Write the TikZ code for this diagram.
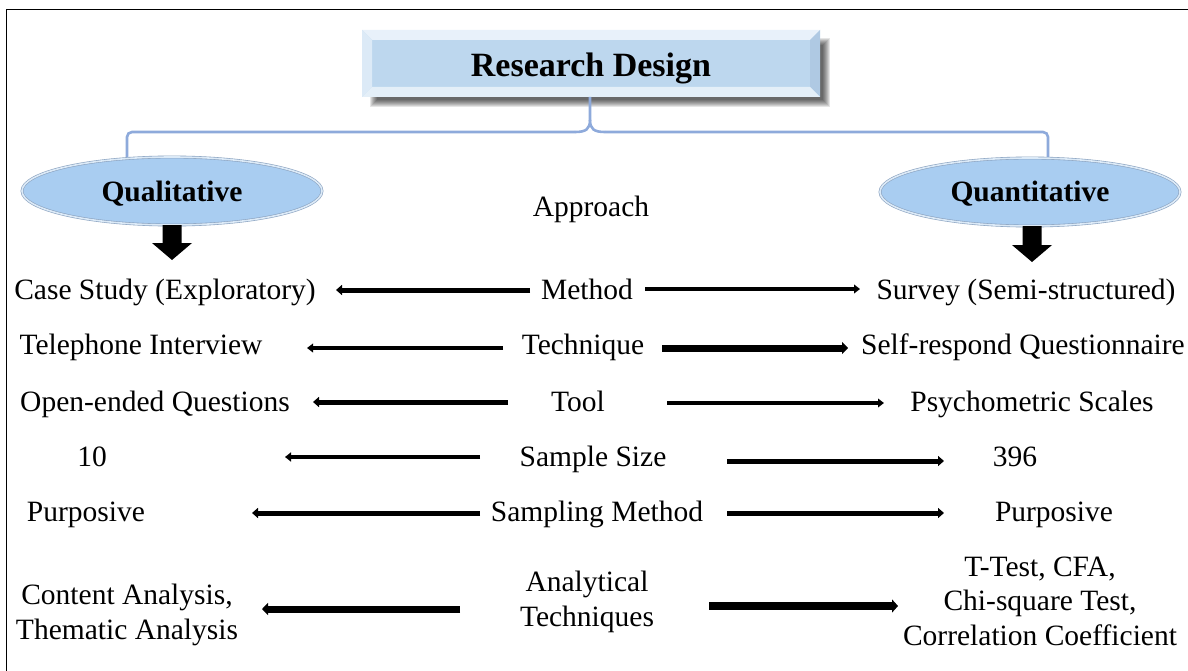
\documentclass[tikz,border=0pt]{standalone}
\usepackage{fontspec}
\setmainfont{Liberation Serif}
\usetikzlibrary{arrows.meta,shapes.geometric}
\definecolor{boxblue}{HTML}{BDD7EE}
\definecolor{bevlight}{HTML}{DCEAF7}
\definecolor{bevtop}{HTML}{E8F1FA}
\definecolor{bevdark}{HTML}{AFC9E3}
\definecolor{ovalblue}{HTML}{A9CDF1}
\definecolor{ovaledge}{HTML}{8AA2C0}
\definecolor{bracket}{HTML}{8EAADB}
\begin{document}
\begin{tikzpicture}[x=1pt,y=-1pt,
  lbl/.style={font=\fontsize{29.5}{34.5}\selectfont, inner sep=0pt, align=center},
  oval/.style={ellipse, minimum width=300pt, minimum height=68pt, inner sep=0pt,
    fill=ovalblue, draw=ovaledge, double=bevlight, double distance=1.6pt, line width=0.6pt,
    text height=20pt, text depth=0pt,
    font=\fontsize{29.5}{34.5}\selectfont\bfseries},
  link/.style={line width=#1, -{Triangle[length=6pt,width=#1+5pt]}},
  down/.style={fill=black},
  brace/.style={draw=bracket, line width=2.6pt, rounded corners=5pt}
]
\useasboundingbox (0,0) rectangle (1188,671);
\fill[white] (0,0) rectangle (1188,671);
% frame edges
\draw[line width=1.6pt] (6.5,671) -- (6.5,9.5) -- (1188,9.5);

% soft shadow under the title box
\foreach \s in {0,1,...,7}{
  \fill[black, opacity=0.1] (370+\s,38+\s) rectangle (830-\s,107-\s);
}
% bevelled title box
\fill[boxblue] (362,30) rectangle (820,97);
\fill[bevtop] (362,30) -- (820,30) -- (810,40) -- (372,40) -- cycle;
\fill[bevlight] (362,30) -- (372,40) -- (372,87) -- (362,97) -- cycle;
\fill[bevdark] (820,30) -- (810,40) -- (810,87) -- (820,97) -- cycle;
\fill[white!60!boxblue] (362,97) -- (372,87) -- (810,87) -- (820,97) -- cycle;
\node[inner sep=0pt, text height=23pt, text depth=0pt, font=\fontsize{34}{40}\selectfont\bfseries] (rd) at (591,65) {Research Design};

% bracket from the title down to the two approaches
\draw[brace] (127,158) |- (575,132);
\draw[bracket, line width=2.6pt] (575,132) .. controls (586,132) and (590,129) .. (590,120) -- (590,97);
\draw[brace] (1048,158) |- (605,132);
\draw[bracket, line width=2.6pt] (605,132) .. controls (594,132) and (590,129) .. (590,120);

% approaches
\node[oval] (qual) at (172,191) {Qualitative};
\node[oval] (quan) at (1030,192) {Quantitative};
\node[lbl, anchor=base] (appr) at (591,216) {Approach};

% block arrows below the ovals
\fill[down] (162.5,225) -- (181.5,225) -- (181.5,243) -- (192,243) -- (172,260) -- (152,243) -- (162.5,243) -- cycle;
\fill[down] (1022.5,226) -- (1041.5,226) -- (1041.5,245) -- (1052,245) -- (1032,262) -- (1012,245) -- (1022.5,245) -- cycle;

% row labels
\node[lbl, anchor=base] (meth) at (587,299) {Method};
\node[lbl, anchor=base] (tech) at (583,354) {Technique};
\node[lbl, anchor=base] (tool) at (578,411) {Tool};
\node[lbl, anchor=base] (size) at (593,466) {Sample Size};
\node[lbl, anchor=base] (samp) at (597,521) {Sampling Method};
\node[lbl] (anal) at (587,602) {Analytical\\Techniques};

% qualitative side
\node[lbl, anchor=base] (qmeth) at (165,299) {Case Study (Exploratory)};
\node[lbl, anchor=base] (qtech) at (141,354) {Telephone Interview};
\node[lbl, anchor=base] (qtool) at (155,411) {Open-ended Questions};
\node[lbl, anchor=base] (qsize) at (92,466) {10};
\node[lbl, anchor=base] (qsamp) at (86,521) {Purposive};
\node[lbl] (qanal) at (127,615) {Content Analysis,\\Thematic Analysis};

% quantitative side
\node[lbl, anchor=base] (nmeth) at (1026,299) {Survey (Semi-structured)};
\node[lbl, anchor=base] (ntech) at (1023,354) {Self-respond Questionnaire};
\node[lbl, anchor=base] (ntool) at (1032,411) {Psychometric Scales};
\node[lbl, anchor=base] (nsize) at (1015,466) {396};
\node[lbl, anchor=base] (nsamp) at (1054,521) {Purposive};
\node[lbl] (nanal) at (1040,601) {T-Test, CFA,\\Chi-square Test,\\Correlation Coefficient};

% arrow end points
\coordinate (m1) at (530,290); \coordinate (m0) at (336,290);
\coordinate (m2) at (645,289); \coordinate (m3) at (860,289);
\coordinate (t1) at (503,348); \coordinate (t0) at (307,348);
\coordinate (t2) at (662,348); \coordinate (t3) at (848,348);
\coordinate (o1) at (508,402); \coordinate (o0) at (313,402);
\coordinate (o2) at (667,403); \coordinate (o3) at (884,403);
\coordinate (s1) at (480,457); \coordinate (s0) at (285,457);
\coordinate (s2) at (727,461); \coordinate (s3) at (944,461);
\coordinate (p1) at (480,513); \coordinate (p0) at (252,513);
\coordinate (p2) at (727,513); \coordinate (p3) at (944,513);
\coordinate (a1) at (460,609); \coordinate (a0) at (262,609);
\coordinate (a2) at (709,606); \coordinate (a3) at (898,606);

\draw[link=5pt] (m1) -- (m0);
\draw[link=3.8pt] (m2) -- (m3);
\draw[link=3.6pt] (t1) -- (t0);
\draw[link=7pt] (t2) -- (t3);
\draw[link=5pt] (o1) -- (o0);
\draw[link=3.6pt] (o2) -- (o3);
\draw[link=4pt] (s1) -- (s0);
\draw[link=5pt] (s2) -- (s3);
\draw[link=5pt] (p1) -- (p0);
\draw[link=5pt] (p2) -- (p3);
\draw[link=7pt] (a1) -- (a0);
\draw[link=8pt] (a2) -- (a3);
\end{tikzpicture}
\end{document}
